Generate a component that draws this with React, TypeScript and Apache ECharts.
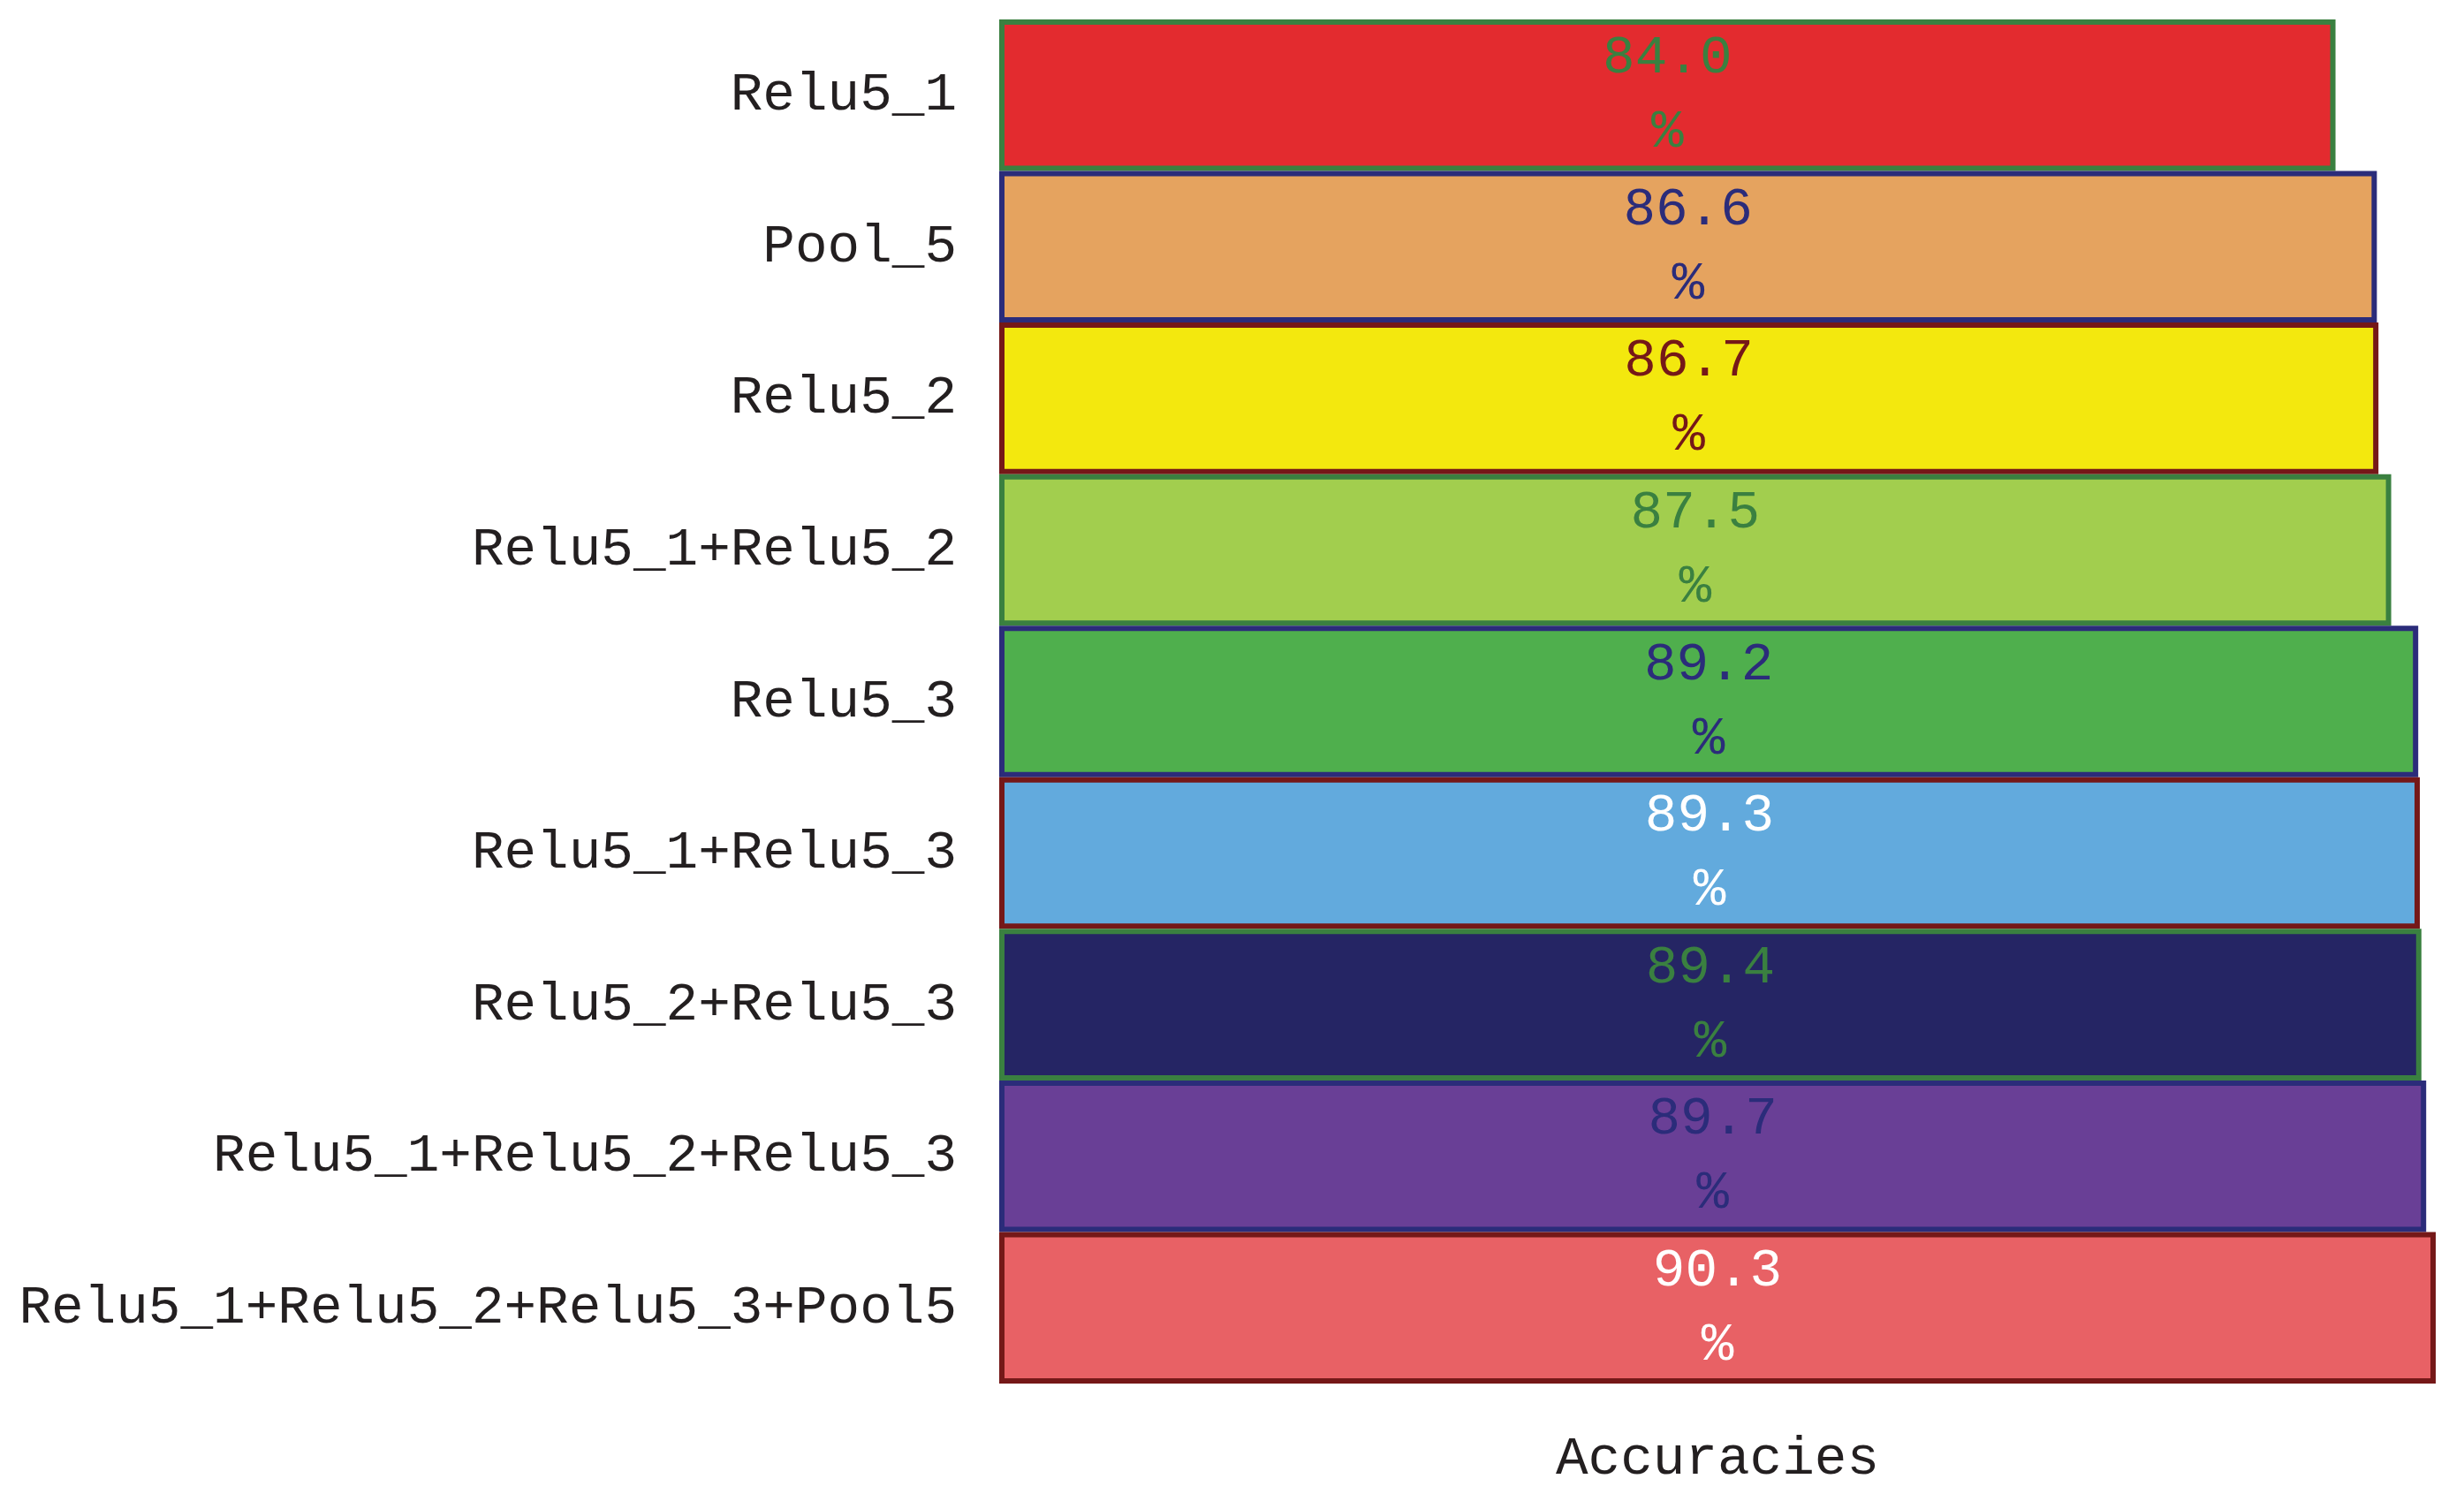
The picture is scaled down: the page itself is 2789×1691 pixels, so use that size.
import React, { useEffect, useRef } from "react";
import * as echarts from "echarts";

const categories = [
  "Relu5_1",
  "Pool_5",
  "Relu5_2",
  "Relu5_1+Relu5_2",
  "Relu5_3",
  "Relu5_1+Relu5_3",
  "Relu5_2+Relu5_3",
  "Relu5_1+Relu5_2+Relu5_3",
  "Relu5_1+Relu5_2+Relu5_3+Pool5",
];
const accuracies = [84.0, 86.6, 86.7, 87.5, 89.2, 89.3, 89.4, 89.7, 90.3];

const GREEN = "#3A8040";
const NAVY = "#2B2C7A";
const DARKRED = "#751818";
const fillColors = ["#E32B2F", "#E5A35F", "#F3E80E", "#A2CE4E", "#4FAF4D", "#62AADD", "#252564", "#693F96", "#E86165"];
const borderColors = [GREEN, NAVY, DARKRED, GREEN, NAVY, DARKRED, GREEN, NAVY, DARKRED];
const labelColors = [GREEN, NAVY, DARKRED, GREEN, NAVY, "#FFFFFF", GREEN, NAVY, "#FFFFFF"];

const FONT = "Liberation Mono";

export default function App() {
  const ref = useRef<HTMLDivElement>(null);
  useEffect(() => {
    if (!ref.current) return;
    const chart = echarts.init(ref.current, null, { renderer: "svg" });
    chart.setOption({
      animation: false,
      backgroundColor: "#FFFFFF",
      grid: {
        left: 1131,
        right: 32,
        top: 22,
        bottom: 125,
        containLabel: false,
        outerBoundsMode: "none",
      },
      xAxis: {
        type: "value",
        min: 0,
        max: 90.3,
        axisLine: { show: false },
        axisTick: { show: false },
        axisLabel: { show: false },
        splitLine: { show: false },
        name: "Accuracies",
        nameLocation: "middle",
        nameGap: 55,
        nameTextStyle: { fontFamily: FONT, fontSize: 61, color: "#231F20" },
      },
      yAxis: {
        type: "category",
        inverse: true,
        data: categories,
        axisLine: { show: false },
        axisTick: { show: false },
        splitLine: { show: false },
        axisLabel: { margin: 48, fontFamily: FONT, fontSize: 61, color: "#231F20" },
      },
      series: [
        {
          type: "bar",
          barCategoryGap: "0%",
          data: accuracies.map((v, i) => ({
            value: v,
            itemStyle: { color: fillColors[i], borderColor: borderColors[i], borderWidth: 6 },
            label: { color: labelColors[i] },
          })),
          label: {
            show: true,
            position: "inside",
            fontFamily: FONT,
            fontSize: 61,
            lineHeight: 84,
            align: "center",
            formatter: (p: any) => Number(p.value).toFixed(1) + "\n%",
          },
        },
      ],
    });
    return () => chart.dispose();
  }, []);
  return (
    <div
      ref={ref}
      style={{ position: "absolute", left: 0, top: 0, width: 2789, height: 1691 }}
    />
  );
}
